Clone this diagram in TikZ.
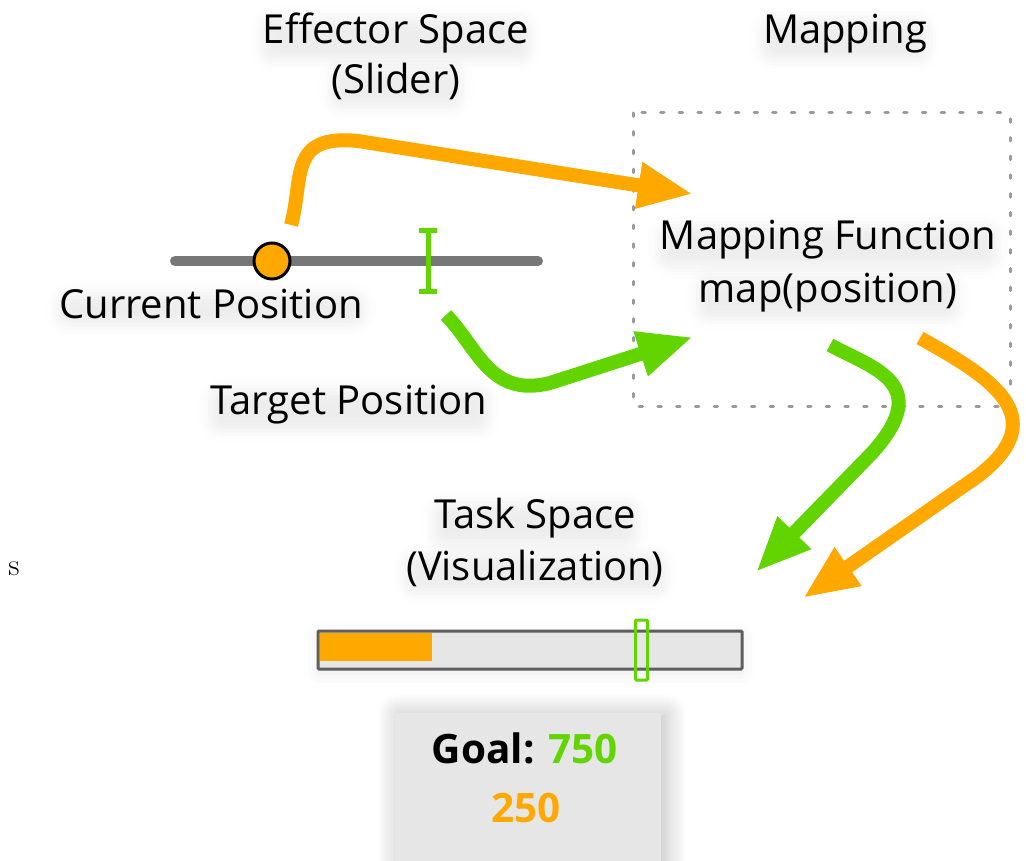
\documentclass[tikz,border=0pt]{standalone}
\usepackage{fontspec}
\setmainfont{Open Sans}
\usetikzlibrary{arrows.meta,shadows.blur}
\definecolor{accorange}{HTML}{FFA800}
\definecolor{accgreen}{HTML}{62D400}
\definecolor{railgray}{HTML}{777777}
\definecolor{bargray}{HTML}{E6E6E6}
\definecolor{edgegray}{HTML}{5E5E5E}
\definecolor{dashgray}{HTML}{9A9A9A}
\tikzset{
  label text/.style={font=\fontsize{40}{48}\selectfont, anchor=base, inner sep=1pt, rounded corners=12pt,
    blur shadow={shadow xshift=0pt, shadow yshift=-6pt, shadow blur radius=12pt, shadow opacity=7}},
  flow/.style={line width=14pt, -{Triangle[length=55pt,width=43pt]}},
  goal box/.style={fill=bargray, draw=none,
    blur shadow={shadow xshift=4pt, shadow yshift=-2pt, shadow blur radius=22pt, shadow opacity=28, shadow blur steps=12}},
  readout/.style={font=\fontsize{40.5}{48}\selectfont\bfseries, anchor=base, inner sep=0pt},
}
\begin{document}
\begin{tikzpicture}[x=1pt,y=-1pt]
\useasboundingbox (0,0) rectangle (1026,861);

% section titles
\node[label text] (effT) at (396,44) {Effector Space};
\node[label text] (effS) at (396,94) {(Slider)};
\node[label text] (mapT) at (845,44) {Mapping};
\node[label text] (taskT) at (535,528) {Task Space};
\node[label text] (taskS) at (535,580) {(Visualization)};

% mapping region
\draw[dashgray, line width=3pt, line cap=round, dash pattern=on 3.5pt off 15.2pt]
  (633,113) rectangle (1010,406);
\node[label text] (mapF) at (828,250) {Mapping Function};
\node[label text] (mapP) at (828,302) {map(position)};

% slider
\coordinate (railL) at (175,261);
\coordinate (railR) at (538,261);
\draw[railgray, line width=10pt, line cap=round] (railL) -- (railR);
\coordinate (tgtTop) at (428,231);
\coordinate (tgtBot) at (428,292);
\draw[accgreen, line width=5pt] (tgtTop) -- (tgtBot);
\draw[accgreen, line width=5pt] ([xshift=-9pt]tgtTop) -- ([xshift=9pt]tgtTop);
\draw[accgreen, line width=5pt] ([xshift=-9pt]tgtBot) -- ([xshift=9pt]tgtBot);
\node[circle, fill=accorange, draw=black, line width=3pt, minimum size=36pt, inner sep=0pt] (knob) at (272,261) {};

\node[label text] (curL) at (211,318) {Current Position};
\node[label text] (tgtL) at (349,414) {Target Position};

% flows into the mapping
\coordinate (o1s) at (291,225);
\coordinate (o1m) at (358,141);
\coordinate (o1e) at (693,194);
\draw[accorange, flow] (o1s) .. controls (304,178) and (288,134) .. (o1m) -- (o1e);

\coordinate (g1s) at (446,315);
\coordinate (g1m) at (550,383);
\coordinate (g1e) at (693,337);
\draw[accgreen, flow] (g1s) .. controls (478,348) and (490,398) .. (g1m) -- (g1e);

% flows out of the mapping
\coordinate (g2s) at (830,345);
\coordinate (g2m) at (872,453);
\coordinate (g2e) at (756,572);
\draw[accgreen, flow] (g2s) .. controls (872,368) and (935,383) .. (g2m) -- (g2e);

\coordinate (o2s) at (920,338);
\coordinate (o2m) at (978,476);
\coordinate (o2e) at (803,598);
\draw[accorange, flow] (o2s) .. controls (988,376) and (1056,416) .. (o2m) -- (o2e);

% stray glyph
\node[font=\fontspec{Latin Modern Roman}\fontsize{31}{36}\selectfont, anchor=base, inner sep=0pt] (sGlyph) at (14,575) {s};

% task bar
\node[draw=edgegray, fill=bargray, line width=3pt, rounded corners=1pt, minimum width=424pt, minimum height=38pt, inner sep=0pt,
  blur shadow={shadow xshift=0pt, shadow yshift=-4pt, shadow blur radius=14pt, shadow opacity=9}] (bar) at (530,650) {};
\fill[accorange] (320,633) rectangle (432,661);
\node[draw=accgreen, line width=3pt, rounded corners=1pt, minimum width=12pt, minimum height=60pt, inner sep=0pt] (barTgt) at (641.5,650) {};

% goal readout
\fill[goal box] (395,713) rectangle (661,900);
\node[readout] (goal) at (525,763) {Goal: \textcolor{accgreen}{750}};
\node[readout, text=accorange] (cur) at (526,822) {250};
\end{tikzpicture}
\end{document}
